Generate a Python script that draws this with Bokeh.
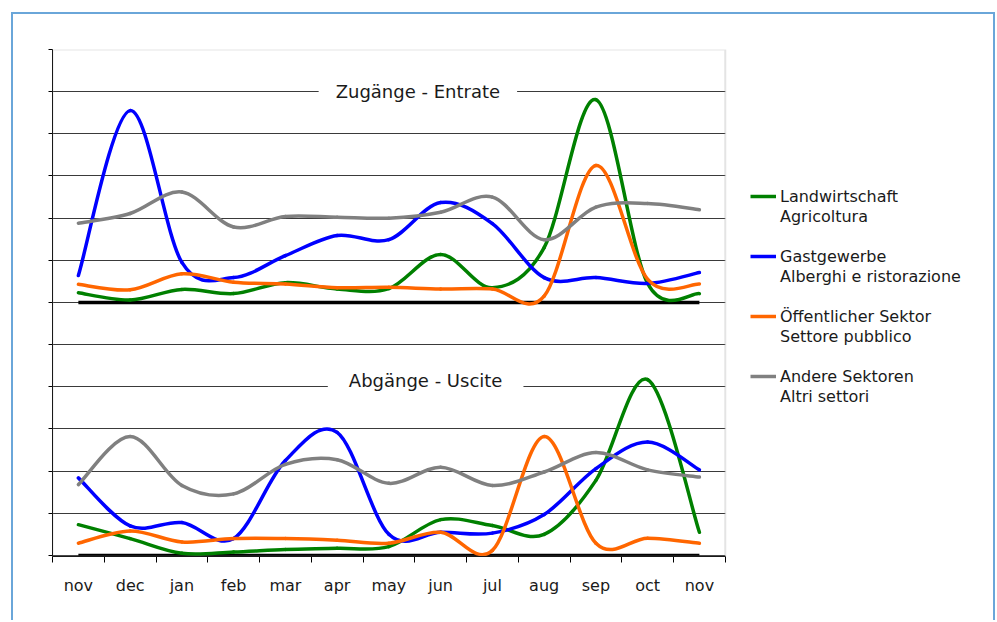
from bokeh.plotting import figure
from bokeh.models import Range1d, FixedTicker, Label, Legend, LegendItem, BoxAnnotation
from bokeh.embed import file_html
from bokeh.resources import INLINE
import numpy as np

# ---------------- data ----------------
months = ["nov", "dec", "jan", "feb", "mar", "apr", "may", "jun", "jul", "aug", "sep", "oct", "nov"]

# Zugänge - Entrate (units of one gridline)
in_landwirtschaft = [0.23, 0.06, 0.31, 0.21, 0.47, 0.32, 0.33, 1.14, 0.35, 1.30, 4.81, 0.45, 0.21]
in_gastgewerbe = [0.64, 4.55, 0.95, 0.59, 1.11, 1.59, 1.49, 2.37, 1.87, 0.59, 0.59, 0.45, 0.71]
in_oeffentlich = [0.43, 0.30, 0.68, 0.48, 0.44, 0.35, 0.36, 0.32, 0.32, 0.15, 3.25, 0.55, 0.44]
in_andere = [1.88, 2.11, 2.62, 1.79, 2.04, 2.02, 2.00, 2.14, 2.50, 1.49, 2.26, 2.35, 2.20]

# Abgänge - Uscite
out_landwirtschaft = [0.73, 0.40, 0.05, 0.08, 0.14, 0.17, 0.21, 0.85, 0.71, 0.50, 1.78, 4.17, 0.55]
out_gastgewerbe = [1.84, 0.70, 0.78, 0.40, 2.25, 2.92, 0.50, 0.55, 0.53, 0.97, 2.06, 2.69, 2.03]
out_oeffentlich = [0.29, 0.58, 0.32, 0.40, 0.40, 0.36, 0.29, 0.55, 0.12, 2.82, 0.29, 0.41, 0.29]
out_andere = [1.68, 2.82, 1.66, 1.46, 2.16, 2.27, 1.71, 2.09, 1.66, 1.98, 2.44, 2.03, 1.86]

zero_line = [0] * 13

series_names = [
    ("Landwirtschaft", "Agricoltura"),
    ("Gastgewerbe", "Alberghi e ristorazione"),
    ("Öffentlicher Sektor", "Settore pubblico"),
    ("Andere Sektoren", "Altri settori"),
]
series_colors = ["#008000", "#0000ff", "#ff6600", "#808080"]

TOP_OFFSET = 6       # upper panel sits 6 gridlines above the lower one
N_GRID = 12
FONT = "DejaVu Sans"
X_START, X_LAST = -0.5, len(months) - 0.5
X_END = 17.76        # frame extends to the right so the legend is not clipped
Y_START = -0.025     # lets the bottom zero line show at full width

x = np.arange(len(months))


def smooth_segments(xs, ys):
    """Excel-like smoothed line: cubic Bezier segments (Catmull-Rom control points)."""
    xs = np.asarray(xs, dtype=float)
    ys = np.asarray(ys, dtype=float)
    n = len(xs)
    seg = dict(x0=[], y0=[], x1=[], y1=[], cx0=[], cy0=[], cx1=[], cy1=[])
    for i in range(n - 1):
        a = i - 1 if i > 0 else i
        d = i + 2 if i + 2 < n else i + 1
        seg["x0"].append(xs[i]); seg["y0"].append(ys[i])
        seg["x1"].append(xs[i + 1]); seg["y1"].append(ys[i + 1])
        seg["cx0"].append(xs[i] + (xs[i + 1] - xs[a]) / 6)
        seg["cy0"].append(ys[i] + (ys[i + 1] - ys[a]) / 6)
        seg["cx1"].append(xs[i + 1] - (xs[d] - xs[i]) / 6)
        seg["cy1"].append(ys[i + 1] - (ys[d] - ys[i]) / 6)
    return seg


p = figure(
    width=984, height=608,
    x_range=Range1d(X_START, X_END),
    y_range=Range1d(Y_START, N_GRID),
    output_backend="svg", toolbar_location=None,
    min_border_left=39, min_border_right=0, min_border_top=35, min_border_bottom=66,
    background_fill_color="white", border_fill_color="white",
)
p.styles = {
    "border-top": "2px solid #6aa6d9",
    "border-left": "2px solid #6aa6d9",
    "border-right": "2px solid #6aa6d9",
    "margin-left": "11px",
    "margin-top": "12px",
}
p.outline_line_color = None

# grid
p.xgrid.visible = False
p.ygrid.ticker = FixedTicker(ticks=list(range(N_GRID + 1)))
p.ygrid.grid_line_color = "#3a3a3a"
p.ygrid.grid_line_width = 1

# x axis: labels at category centres, tick marks at category borders
p.xaxis.bounds = (X_START, X_LAST)
p.xaxis.ticker = FixedTicker(ticks=[int(i) for i in x],
                             minor_ticks=[float(v) for v in np.arange(len(months) + 1) - 0.5])
p.xaxis.major_label_overrides = {int(i): m for i, m in zip(x, months)}
p.xaxis.major_tick_out = 0
p.xaxis.major_tick_in = 0
p.xaxis.minor_tick_out = 6
p.xaxis.minor_tick_in = 0
p.xaxis.minor_tick_line_color = "black"
p.xaxis.axis_line_color = "black"
p.xaxis.major_label_text_font = FONT
p.xaxis.major_label_text_font_size = "16px"
p.xaxis.major_label_text_color = "#1a1a1a"
p.xaxis.major_label_standoff = 13

# y axis: ticks only
p.yaxis.ticker = FixedTicker(ticks=list(range(N_GRID + 1)))
p.yaxis.major_label_overrides = {i: "" for i in range(N_GRID + 1)}
p.yaxis.major_tick_out = 4
p.yaxis.major_tick_in = 0
p.yaxis.minor_tick_line_color = None
p.yaxis.axis_line_color = "black"
p.yaxis.major_tick_line_color = "black"

# blank out gridlines to the right of the plot area (legend zone)
p.add_layout(BoxAnnotation(left=X_LAST, fill_color="white", fill_alpha=1, line_color=None,
                           level="underlay"))
# plot-area border (grey)
p.add_layout(BoxAnnotation(left=X_START, right=X_LAST, bottom=Y_START, top=N_GRID,
                           fill_alpha=0, line_color="#a6a6a6", line_width=2))

# zero lines of both panels
p.line(x, np.array(zero_line) + TOP_OFFSET, line_color="black", line_width=3.5)
p.line(x, np.array(zero_line), line_color="black", line_width=3.5)

top_series = [in_landwirtschaft, in_gastgewerbe, in_oeffentlich, in_andere]
bottom_series = [out_landwirtschaft, out_gastgewerbe, out_oeffentlich, out_andere]

legend_renderers = []
for ys_top, ys_bot, color in zip(top_series, bottom_series, series_colors):
    p.bezier(line_color=color, line_width=3.5, line_cap="round",
             **smooth_segments(x, np.array(ys_top) + TOP_OFFSET))
    p.bezier(line_color=color, line_width=3.5, line_cap="round",
             **smooth_segments(x, ys_bot))
    # single-point line: draws nothing in the plot, only provides the legend swatch
    legend_renderers.append(p.line(x[:1], ys_bot[:1], line_color=color, line_width=3.5))

blank = p.line(x[:1], zero_line[:1], line_alpha=0)

# panel titles with white boxes over the gridline
p.add_layout(Label(x=6.56, y=11, text="Zugänge - Entrate", text_align="center",
                   text_baseline="middle", text_font=FONT, text_font_size="18px",
                   text_color="#1a1a1a", background_fill_color="white",
                   padding=dict(left=17, right=17, top=5, bottom=5)))
p.add_layout(Label(x=6.71, y=4.14, text="Abgänge - Uscite", text_align="center",
                   text_baseline="middle", text_font=FONT, text_font_size="18px",
                   text_color="#1a1a1a", background_fill_color="white",
                   padding=dict(left=21, right=21, top=5, bottom=5)))

# legend (two-line labels, blank spacer rows between entries)
items = []
for k, ((de, it), r) in enumerate(zip(series_names, legend_renderers)):
    if k > 0:
        items.append(LegendItem(label=" ", renderers=[blank]))
    items.append(LegendItem(label=de, renderers=[r]))
    items.append(LegendItem(label=it, renderers=[blank]))

legend = Legend(items=items, location=(698, 150), orientation="vertical",
                label_text_font=FONT, label_text_font_size="16px", label_text_color="#1a1a1a",
                glyph_width=26, glyph_height=20, label_height=20, label_standoff=4,
                spacing=0, padding=0, margin=0,
                border_line_alpha=0, background_fill_alpha=0)
p.add_layout(legend)

open("out.html", "w").write(file_html(p, INLINE))
